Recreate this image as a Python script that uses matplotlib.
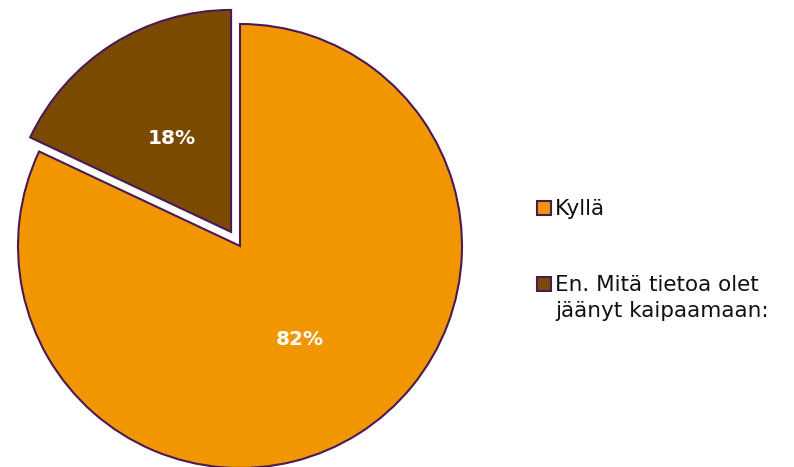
import matplotlib.pyplot as plt
from matplotlib.patches import Rectangle

labels = ['Kyllä', 'En. Mitä tietoa olet\njäänyt kaipaamaan:']
shares = [82, 18]
colors = ['#F29600', '#7A4A00']
edge = '#4A1A55'

W, H = 794, 467
fig = plt.figure(figsize=(W / 100, H / 100), dpi=100)
ax = fig.add_axes([0, 0, 1, 1])

# pie centre and radius in pixels
cx, cy, r = 240, 221, 222

wedges, texts, autotexts = ax.pie(
    shares, colors=colors, startangle=90, counterclock=False,
    explode=[0, 0.075], autopct='%1.0f%%', pctdistance=0.5,
    wedgeprops=dict(edgecolor=edge, linewidth=1.5),
    textprops=dict(color='white', fontsize=14.5, fontweight='bold',
                   family='DejaVu Sans'))

ax.set_aspect('auto')
ax.set_xlim(-cx / r, (W - cx) / r)
ax.set_ylim(-cy / r, (H - cy) / r)
ax.axis('off')

# legend drawn by hand to keep the handle on the first text line
baselines = [215, 291]
for lab, col, y in zip(labels, colors, baselines):
    fig.patches.append(Rectangle((537 / W, 1 - y / H), 14 / W, 14 / H,
                                 transform=fig.transFigure, facecolor=col,
                                 edgecolor=edge, linewidth=1.5))
    first, *rest = lab.split('\n')
    fig.text(555 / W, 1 - y / H, first, fontsize=15.5, color='#111111',
             va='baseline', ha='left')
    for i, line in enumerate(rest, 1):
        fig.text(555 / W, 1 - (y + 26 * i) / H, line, fontsize=15.5,
                 color='#111111', va='baseline', ha='left')

plt.savefig('out.png', dpi=100)
